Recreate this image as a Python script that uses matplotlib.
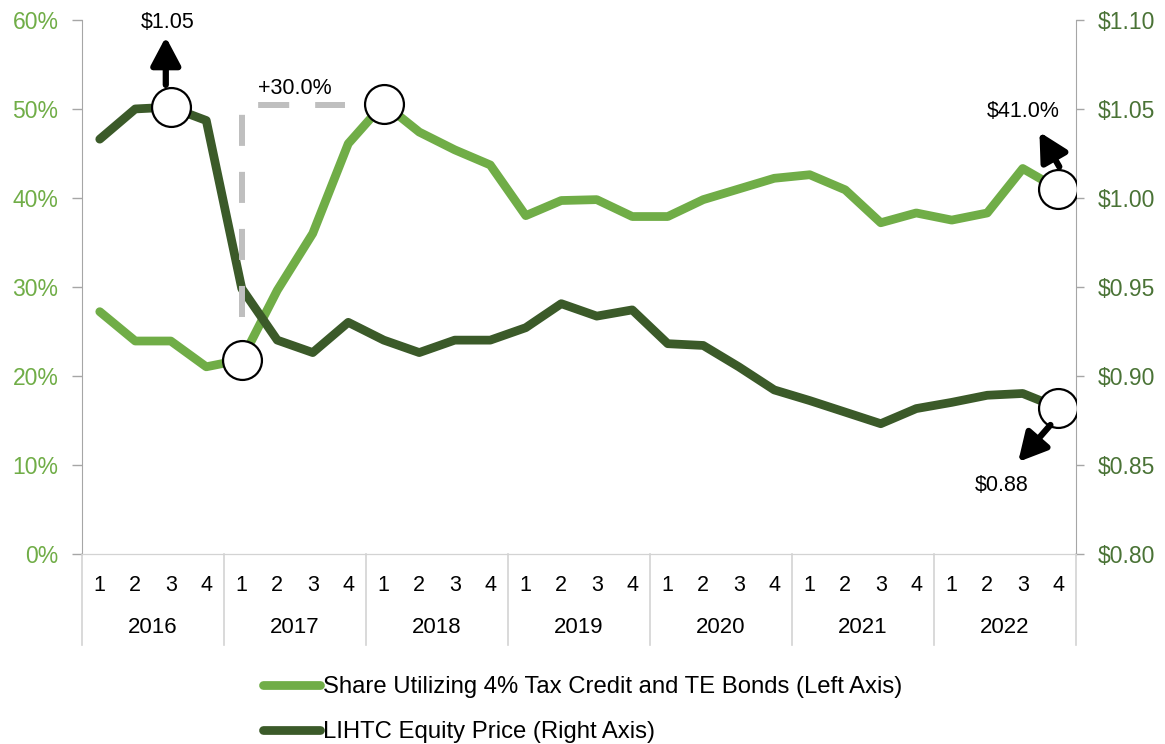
import matplotlib.pyplot as plt
import matplotlib.transforms as mtransforms
from matplotlib.ticker import FuncFormatter

plt.rcParams['font.family'] = ['Liberation Sans', 'DejaVu Sans']

# Data (quarterly, 2016 Q1 .. 2022 Q4)
years = ['2016', '2017', '2018', '2019', '2020', '2021', '2022']
quarters = ['1', '2', '3', '4']
share_4pct = [27.2, 23.9, 23.9, 21.0, 21.8, 29.6, 36.0, 46.1,
              50.6, 47.4, 45.4, 43.7, 38.0, 39.7, 39.8, 37.9,
              37.9, 39.8, 41.0, 42.2, 42.6, 40.9, 37.2, 38.3,
              37.5, 38.3, 43.3, 41.0]
equity_price = [1.033, 1.050, 1.051, 1.0435, 0.949, 0.920, 0.913, 0.930,
                0.920, 0.913, 0.920, 0.920, 0.927, 0.9405, 0.9335, 0.937,
                0.918, 0.917, 0.905, 0.892, 0.886, 0.8795, 0.873, 0.8815,
                0.885, 0.889, 0.890, 0.882]
share_label = 'Share Utilizing 4% Tax Credit and TE Bonds (Left Axis)'
price_label = 'LIHTC Equity Price (Right Axis)'

LIGHT = '#70ad47'
DARK = '#3b5a29'
RIGHT_TXT = '#4a7336'
SPINE = '#a6a6a6'
SEP = '#d3d3d3'

x = list(range(len(share_4pct)))

fig = plt.figure(figsize=(11.65, 7.44), dpi=100)
ax = fig.add_axes([0.0704, 0.256, 0.8532, 0.7171])
ax2 = ax.twinx()

l1, = ax.plot(x, share_4pct, color=LIGHT, lw=6.3, solid_capstyle='round',
              solid_joinstyle='round', label=share_label, zorder=2)
l2, = ax2.plot(x, equity_price, color=DARK, lw=6.3, solid_capstyle='round',
               solid_joinstyle='round', label=price_label, zorder=2)

ax.set_xlim(-0.5, len(x) - 0.5)
ax.set_ylim(0, 60)
ax2.set_ylim(0.80, 1.10)
ax.set_yticks(range(0, 61, 10))
ax2.set_yticks([0.80, 0.85, 0.90, 0.95, 1.00, 1.05, 1.10])
ax.yaxis.set_major_formatter(FuncFormatter(lambda v, p: f'{v:.0f}%'))
ax2.yaxis.set_major_formatter(FuncFormatter(lambda v, p: f'${v:.2f}'))
ax.set_xticks([])

ax.tick_params(axis='y', length=7, width=1, color=SPINE, labelcolor=LIGHT,
               labelsize=16.5, pad=10)
ax2.tick_params(axis='y', length=6, width=1, color=SPINE, labelcolor=RIGHT_TXT,
                labelsize=16.5, pad=10)

for a in (ax, ax2):
    a.spines['top'].set_visible(False)
    a.spines['bottom'].set_color(SEP)
    a.patch.set_visible(False)
ax.spines['right'].set_visible(False)
ax.spines['left'].set_color(SPINE)
ax2.spines['left'].set_visible(False)
ax2.spines['right'].set_color(SPINE)

# category axis: quarters, years, separators
blend = mtransforms.blended_transform_factory(ax.transData, ax.transAxes)
for i in x:
    ax.text(i, -0.059, quarters[i % 4], transform=blend, ha='center',
            va='center', fontsize=15.5)
for k, yr in enumerate(years):
    ax.text(4 * k + 1.5, -0.139, yr, transform=blend, ha='center',
            va='center', fontsize=16)
for k in range(len(years) + 1):
    b = 4 * k - 0.5
    ax.plot([b, b], [0, -0.1715], transform=blend, color=SEP, lw=1.2,
            clip_on=False)

# +30% bracket
ax2.plot([4.0, 4.0, 6.9], [26.6, 50.45, 50.45], transform=ax.transData,
         color='#bfbfbf', lw=4.3, linestyle=(0, (5.2, 4.35)),
         dash_capstyle='butt', zorder=3)
ax2.text(5.5, 52.3, '+30.0%', transform=ax.transData, ha='center',
         va='center', fontsize=15.5, zorder=5)

# highlight circles
circ = dict(marker='o', markersize=28, markerfacecolor='white',
            markeredgecolor='black', markeredgewidth=1.6, linestyle='none',
            zorder=6)
ax2.plot([2, 27], [equity_price[2], equity_price[27]], **circ)
ax2.plot([4, 8, 27], [share_4pct[4], share_4pct[8], share_4pct[27]],
         transform=ax.transData, **circ)

arrow = dict(arrowstyle='-|>,head_length=0.85,head_width=0.45', color='black',
             lw=4.5, mutation_scale=20, shrinkA=0, shrinkB=0)
# $1.05
ax2.annotate('', xy=(1.86, 1.0905), xytext=(1.86, 1.0635),
             arrowprops=arrow, zorder=7)
ax2.text(1.92, 1.0984, '$1.05', ha='center', va='center', fontsize=15.5,
         zorder=7)
# $41.0%
ax2.annotate('', xy=(26.47, 47.4), xycoords=ax.transData,
             xytext=(27.03, 43.5), textcoords=ax.transData,
             arrowprops=arrow, zorder=7)
ax2.text(26.0, 49.7, '$41.0%', transform=ax.transData, ha='center',
         va='center', fontsize=15.5, zorder=7)
# $0.88
ax2.annotate('', xy=(25.87, 0.8515), xytext=(26.78, 0.8723),
             arrowprops=arrow, zorder=7)
ax2.text(25.42, 0.838, '$0.88', ha='center', va='center', fontsize=15.5,
         zorder=7)

fig.legend(handles=[l1, l2], loc='center left',
           bbox_to_anchor=(0.2258, 0.046), frameon=False, fontsize=17.2,
           handlelength=2.4, handletextpad=0.1, labelspacing=0.95,
           borderpad=0, borderaxespad=0)

fig.savefig('out.png', dpi=100)
